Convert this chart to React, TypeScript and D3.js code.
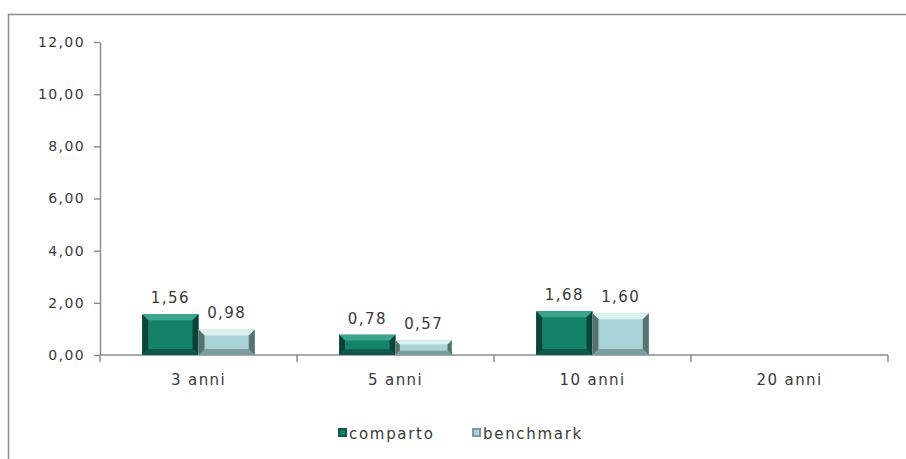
import React, { useEffect, useRef } from 'react';
import * as d3 from 'd3';

const categories = ['3 anni', '5 anni', '10 anni', '20 anni'];
const seriesNames = ['comparto', 'benchmark'];
const comparto: (number | null)[] = [1.56, 0.78, 1.68, null];
const benchmark: (number | null)[] = [0.98, 0.57, 1.6, null];
const yTicks = [0, 2, 4, 6, 8, 10, 12];

const palette = [
  { base: '#15826a', light: '#3aa58b', dark: '#0a4438', side: '#0e5a4a' },
  { base: '#a8d3d6', light: '#daf1f2', dark: '#56716f', side: '#7c9c9f' },
];

const fmt = (v: number) => v.toFixed(2).replace('.', ',');

export default function App() {
  const ref = useRef<SVGSVGElement>(null);

  useEffect(() => {
    if (!ref.current) return;
    const svg = d3.select(ref.current);
    svg.selectAll('*').remove();

    const font = '"DejaVu Sans", sans-serif';
    const fs = 14;
    const ls = 1.4;
    const txt = '#3a3a3a';
    const left = 100, right = 888, top = 42, bottom = 355;

    // outer frame
    svg.append('rect')
      .attr('x', 8.5).attr('y', 14.5)
      .attr('width', 906).attr('height', 460)
      .attr('fill', '#fff').attr('stroke', '#8c8c8c').attr('stroke-width', 1.5);

    const y = d3.scaleLinear().domain([0, 12]).range([bottom, top]);
    const x0 = d3.scaleBand().domain(categories).range([left, right]);
    const x1 = d3.scaleBand().domain(seriesNames).range([0, x0.bandwidth()]).paddingOuter(0.75);

    // y axis
    const yAxis = svg.append('g')
      .attr('transform', `translate(${left},0)`)
      .call(d3.axisLeft(y).tickValues(yTicks).tickSize(6).tickSizeOuter(0).tickFormat((d) => fmt(+d)));
    yAxis.selectAll('line, path').attr('stroke', '#8c8c8c').attr('stroke-width', 1.5);
    yAxis.selectAll('text').attr('font-family', font).attr('font-size', fs).attr('fill', txt)
      .attr('letter-spacing', ls).attr('dx', -6);

    // x axis
    const xg = svg.append('g').attr('transform', `translate(0,${bottom})`);
    xg.append('line').attr('x1', left).attr('x2', right).attr('y1', 0).attr('y2', 0)
      .attr('stroke', '#8c8c8c').attr('stroke-width', 1.5);
    const bounds = [left, ...categories.map((c) => (x0(c) as number) + x0.bandwidth())];
    xg.selectAll('line.tk').data(bounds).enter().append('line')
      .attr('x1', (d) => d).attr('x2', (d) => d).attr('y1', 0).attr('y2', 7)
      .attr('stroke', '#8c8c8c').attr('stroke-width', 1.5);
    xg.selectAll('text').data(categories).enter().append('text')
      .attr('x', (d) => (x0(d) as number) + x0.bandwidth() / 2)
      .attr('y', 30)
      .attr('text-anchor', 'middle')
      .attr('font-family', font).attr('font-size', fs + 1).attr('fill', txt).attr('letter-spacing', ls)
      .text((d) => d);

    const series = [comparto, benchmark];
    const bev = 6;
    series.forEach((vals, si) => {
      const col = palette[si];
      categories.forEach((c, ci) => {
        const v = vals[ci];
        if (v == null) return;
        const bx = (x0(c) as number) + (x1(seriesNames[si]) as number);
        const bw = x1.bandwidth();
        const by = y(v);
        const bh = bottom - by;
        const g = svg.append('g');
        const b = Math.min(bev, bh / 3.5);
        g.append('rect').attr('x', bx).attr('y', by).attr('width', bw).attr('height', bh).attr('fill', col.base);
        // bevels
        const poly = (pts: number[][], fill: string) =>
          g.append('polygon').attr('points', pts.map((p) => p.join(',')).join(' ')).attr('fill', fill);
        poly([[bx, by], [bx + bw, by], [bx + bw - b, by + b], [bx + b, by + b]], col.light);
        poly([[bx, by + bh], [bx + bw, by + bh], [bx + bw - b, by + bh - b], [bx + b, by + bh - b]], col.side);
        poly([[bx, by], [bx + b, by + b], [bx + b, by + bh - b], [bx, by + bh]], col.dark);
        poly([[bx + bw, by], [bx + bw - b, by + b], [bx + bw - b, by + bh - b], [bx + bw, by + bh]], col.dark);
        g.append('text')
          .attr('x', bx + bw / 2).attr('y', by - 11)
          .attr('text-anchor', 'middle')
          .attr('font-family', font).attr('font-size', fs + 1).attr('fill', txt).attr('letter-spacing', ls)
          .text(fmt(v));
      });
    });

    // legend
    const legend = svg.append('g').attr('transform', 'translate(338,426)');
    const items = [{ name: 'comparto', x: 0 }, { name: 'benchmark', x: 134 }];
    items.forEach((it, i) => {
      legend.append('rect').attr('x', it.x).attr('y', 2).attr('width', 9).attr('height', 9)
        .attr('fill', palette[i].side);
      legend.append('rect').attr('x', it.x + 2).attr('y', 4).attr('width', 5).attr('height', 5)
        .attr('fill', palette[i].base);
      legend.append('text').attr('x', it.x + 11).attr('y', 13)
        .attr('font-family', font).attr('font-size', fs + 1).attr('fill', txt).attr('letter-spacing', ls + 0.3)
        .text(it.name);
    });
  }, []);

  return (
    <svg ref={ref} width={906} height={459}
      style={{ position: 'absolute', left: 0, top: 0, background: '#fff' }} />
  );
}
